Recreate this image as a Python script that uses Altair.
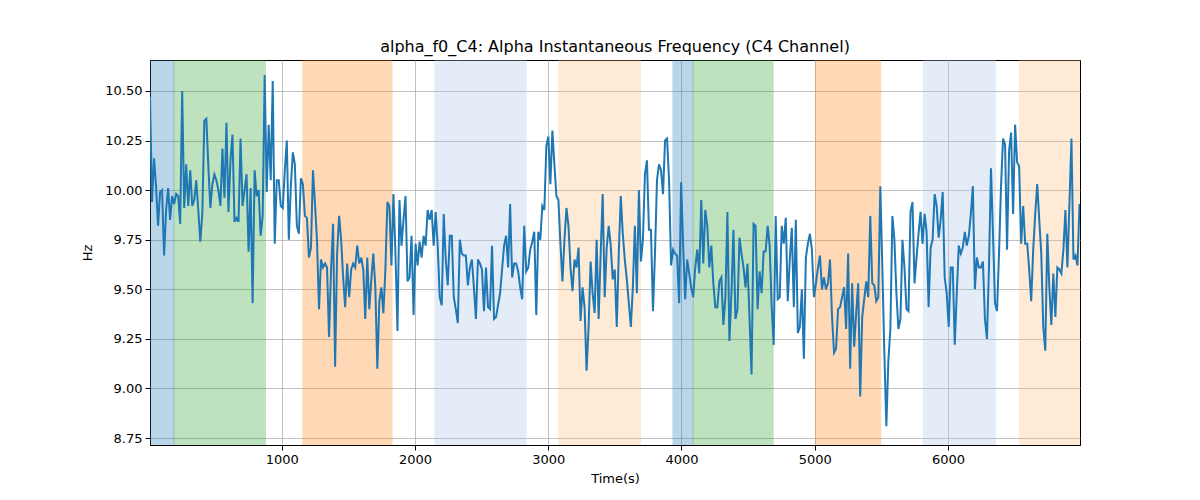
import altair as alt
import pandas as pd

# sample grid of the frequency trace (seconds)
t_start = 11
t_step = 15.1

hz_part1 = [10.47, 9.94, 10.16, 10.02, 9.82, 9.99, 10.00, 9.67, 9.90, 10.01, 9.85, 9.97, 9.93, 9.98, 9.97, 9.83,
            10.50, 9.91, 10.13, 9.92, 10.10, 9.92, 9.95, 10.05, 9.90, 9.74, 9.88, 10.35, 10.36, 10.12, 9.91, 10.03,
            10.08, 10.05, 10.00, 9.92, 10.21, 9.96, 10.34, 9.89, 10.15, 10.28, 9.84, 9.86, 9.84, 10.26, 9.92, 10.00,
            10.08, 9.69, 10.01, 9.43, 10.10, 9.97, 10.00, 9.77, 9.87, 10.58, 9.99, 10.33, 10.05, 10.55, 9.73, 10.05,
            10.05, 9.92, 9.91, 10.10, 10.25, 9.75, 10.02, 10.19, 10.13, 9.82, 9.78, 10.06, 10.03, 9.87]
hz_part2 = [9.86, 9.66, 9.71, 10.10, 9.93, 9.75, 9.40, 9.65, 9.61, 9.63, 9.61, 9.26, 9.60, 9.83, 9.11, 9.68,
            9.87, 9.75, 9.56, 9.41, 9.63, 9.46, 9.60, 9.63, 9.61, 9.72, 9.63, 9.66, 9.60, 9.35, 9.66, 9.40,
            9.55, 9.68, 9.51, 9.10, 9.44, 9.51, 9.38, 9.60, 9.94, 9.92, 9.62, 9.98, 9.68, 9.29, 9.95, 9.72,
            9.85, 9.97, 9.54, 9.56, 9.77, 9.37, 9.73, 9.62, 9.74, 9.66, 9.77, 9.72, 9.90, 9.85, 9.90, 9.72,
            9.89, 9.72, 9.46, 9.42, 9.88, 9.65, 9.52, 9.77, 9.77, 9.46, 9.40, 9.33, 9.75]
hz_part3 = [9.68, 9.67, 9.67, 9.52, 9.61, 9.65, 9.51, 9.35, 9.65, 9.63, 9.60, 9.39, 9.61, 9.41, 9.40, 9.72,
            9.35, 9.36, 9.42, 9.48, 9.60, 9.72, 9.77, 9.61, 9.93, 9.56, 9.63, 9.63, 9.59, 9.51, 9.45, 9.82,
            9.59, 9.61, 9.70, 9.74, 9.79, 9.37, 9.79, 9.75, 9.92, 9.90, 10.22, 10.27, 10.03, 10.30, 10.13, 9.97,
            9.95, 9.73, 9.54, 9.75, 9.91, 9.82, 9.61, 9.49, 9.65, 9.61, 9.71, 9.34, 9.51, 9.41, 9.09, 9.31,
            9.64, 9.48, 9.38, 9.75, 9.35, 9.68, 9.98, 9.46, 9.71, 9.82, 9.72, 9.55, 9.60, 9.31]
hz_part4 = [9.68, 9.97, 9.78, 9.65, 9.55, 9.43, 9.31, 9.51, 9.82, 9.48, 10.00, 9.64, 9.75, 10.08, 10.15, 9.80,
            9.80, 9.39, 9.68, 10.05, 10.13, 10.10, 9.98, 10.25, 10.26, 10.05, 9.62, 9.70, 9.68, 9.67, 9.43, 10.04,
            9.72, 9.45, 9.65, 9.58, 9.51, 9.46, 9.61, 9.70, 9.58, 9.95, 9.63, 9.90, 9.82, 9.61, 9.72, 9.53,
            9.41, 9.41, 9.54, 9.56, 9.32, 9.46, 9.89, 9.24, 9.48, 9.80, 9.35, 9.40, 9.76, 9.68, 9.61, 9.51,
            9.63, 9.35, 9.07, 9.83, 9.82, 9.40, 9.59, 9.48, 9.69, 9.69, 9.82, 9.72, 9.41]
hz_part5 = [9.22, 9.87, 9.45, 9.46, 9.82, 9.73, 9.86, 9.44, 9.65, 9.81, 9.41, 9.85, 9.28, 9.31, 9.50, 9.15,
            9.66, 9.73, 9.78, 9.70, 9.46, 9.53, 9.61, 9.67, 9.50, 9.56, 9.50, 9.53, 9.65, 9.36, 9.18, 9.20,
            9.40, 9.41, 9.46, 9.51, 9.30, 9.68, 9.10, 9.53, 9.21, 9.38, 9.53, 8.96, 9.36, 9.45, 9.54, 9.46,
            9.87, 9.53, 9.52, 9.44, 9.46, 10.02, 9.61, 9.18, 8.81, 9.14, 9.30, 9.87, 9.75, 9.48, 9.30, 9.35,
            9.75, 9.61, 9.40, 9.39, 9.89, 9.94, 9.53, 9.66, 9.78, 9.89, 9.73, 9.88, 9.79, 9.41]
hz_part6 = [9.71, 9.75, 9.98, 9.92, 9.76, 9.85, 9.99, 9.56, 9.48, 9.31, 9.61, 9.61, 9.22, 9.48, 9.72, 9.68,
            9.71, 9.79, 9.72, 9.77, 9.88, 10.02, 9.50, 9.66, 9.61, 9.61, 9.64, 9.35, 9.25, 9.61, 10.11, 9.78,
            9.43, 9.39, 9.68, 10.02, 10.26, 10.23, 9.70, 10.20, 10.29, 9.88, 10.33, 10.14, 10.12, 9.73, 9.92, 9.73,
            9.73, 9.60, 9.44, 9.70, 9.88, 10.03, 9.85, 9.68, 9.31, 9.19, 9.78, 9.51, 9.32, 9.58, 9.36, 9.61,
            9.60, 9.58, 9.70, 9.90, 9.61, 9.93, 10.26, 9.65, 9.67, 9.62, 9.93]

hz = hz_part1 + hz_part2 + hz_part3 + hz_part4 + hz_part5 + hz_part6
time = [t_start + i * t_step for i in range(len(hz))]

# shaded intervals
span_start = [0, 191, 1158, 2150, 3080, 3936, 4088, 5006, 5815, 6536]
span_end = [191, 877, 1827, 2834, 3693, 4088, 4688, 5495, 6357, 7100]
span_color = ["#1f77b4", "#2ca02c", "#ff7f0e", "#aec7e8", "#ffbb78",
              "#1f77b4", "#2ca02c", "#ff7f0e", "#aec7e8", "#ffbb78"]
span_alpha = [0.3, 0.3, 0.3, 0.33, 0.3, 0.3, 0.3, 0.3, 0.33, 0.3]

df = pd.DataFrame({"time": time, "hz": hz})
spans_df = pd.DataFrame({"start": span_start, "end": span_end,
                         "color": span_color, "alpha": span_alpha})

x_scale = alt.Scale(domain=[11, 6991], nice=False, zero=False)
y_scale = alt.Scale(domain=[8.715, 10.656], nice=False, zero=False)

x_axis = alt.Axis(title="Time(s)", values=[1000, 2000, 3000, 4000, 5000, 6000], format="d",
                  labelPadding=3, titlePadding=6)
y_axis = alt.Axis(title="Hz", values=[8.75, 9.0, 9.25, 9.5, 9.75, 10.0, 10.25, 10.5], format=".2f",
                  labelPadding=3, titlePadding=10)

spans = alt.Chart(spans_df).mark_rect(clip=True, strokeWidth=1).encode(
    x=alt.X("start:Q", scale=x_scale, axis=x_axis),
    x2="end:Q",
    color=alt.Color("color:N", scale=None),
    stroke=alt.Stroke("color:N", scale=None),
    opacity=alt.Opacity("alpha:Q", scale=None),
)

line = alt.Chart(df).mark_line(color="#1f77b4", strokeWidth=2, clip=True).encode(
    x=alt.X("time:Q", scale=x_scale, axis=x_axis),
    y=alt.Y("hz:Q", scale=y_scale, axis=y_axis),
)

chart = alt.layer(spans, line).properties(
    width=930,
    height=385,
    autosize="none",
    padding={"left": 142, "top": 52, "right": 112, "bottom": 47},
    title=alt.TitleParams("alpha_f0_C4: Alpha Instantaneous Frequency (C4 Channel)", offset=5),
).configure_axis(
    labelFont="DejaVu Sans", labelFontSize=13, labelColor="black",
    titleFont="DejaVu Sans", titleFontSize=13, titleFontWeight="normal", titleColor="black",
    gridColor="#b0b0b0", gridWidth=0.8,
    domainColor="black", domainWidth=1,
    tickColor="black", tickSize=5, tickWidth=1,
).configure_view(
    stroke="black", strokeWidth=1
).configure_title(
    font="DejaVu Sans", fontSize=16, fontWeight="normal", color="black"
)

chart.save("out.html", embed_options={"renderer": "svg", "actions": False})
